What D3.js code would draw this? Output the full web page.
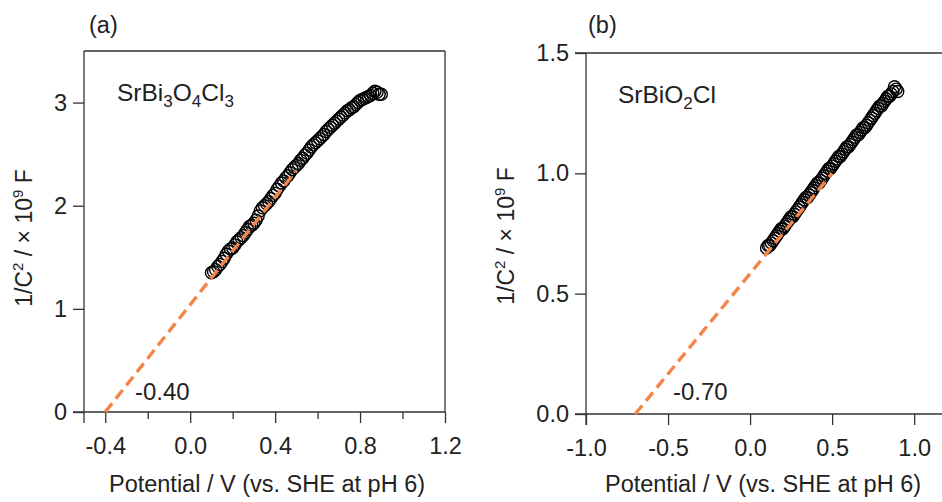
<!DOCTYPE html>
<html>
<head>
<meta charset="utf-8">
<script src="https://cdn.jsdelivr.net/npm/d3@7"></script>
<style>
  body { margin: 0; background: #fff; }
  svg { display: block; font-family: "Liberation Sans", Arial, sans-serif; }
  .axis path, .axis line { stroke: #333; stroke-width: 1.3; }
  .axis text { fill: #222; font-size: 23.5px; font-family: "Liberation Sans", Arial, sans-serif; }
</style>
</head>
<body>
<div id="chart"></div>
<script>
// potential (V vs. SHE) for both samples
const potential = [
  0.10, 0.11, 0.12, 0.13, 0.14, 0.15, 0.16, 0.17, 0.18, 0.19,
  0.20, 0.21, 0.22, 0.23, 0.24, 0.25, 0.26, 0.27, 0.28, 0.29,
  0.30, 0.31, 0.32, 0.33, 0.34, 0.35, 0.36, 0.37, 0.38, 0.39,
  0.40, 0.41, 0.42, 0.43, 0.44, 0.45, 0.46, 0.47, 0.48, 0.49,
  0.50, 0.51, 0.52, 0.53, 0.54, 0.55, 0.56, 0.57, 0.58, 0.59,
  0.60, 0.61, 0.62, 0.63, 0.64, 0.65, 0.66, 0.67, 0.68, 0.69,
  0.70, 0.71, 0.72, 0.73, 0.74, 0.75, 0.76, 0.77, 0.78, 0.79,
  0.80, 0.81, 0.82, 0.83, 0.84, 0.85, 0.86, 0.87, 0.88, 0.89, 0.90
];
// 1/C^2 (x10^9) SrBi3O4Cl3
const invC2_a = [
  1.35, 1.36, 1.38, 1.41, 1.43, 1.46, 1.49, 1.53, 1.56, 1.58,
  1.59, 1.62, 1.65, 1.67, 1.69, 1.71, 1.74, 1.77, 1.80, 1.81,
  1.83, 1.86, 1.90, 1.95, 1.98, 2.00, 2.02, 2.04, 2.07, 2.10,
  2.12, 2.16, 2.19, 2.22, 2.24, 2.27, 2.29, 2.32, 2.35, 2.37,
  2.39, 2.41, 2.44, 2.46, 2.49, 2.51, 2.54, 2.57, 2.59, 2.61,
  2.63, 2.65, 2.67, 2.69, 2.72, 2.74, 2.76, 2.78, 2.80, 2.82,
  2.84, 2.86, 2.88, 2.90, 2.92, 2.93, 2.95, 2.96, 2.98, 3.00,
  3.02, 3.03, 3.04, 3.05, 3.06, 3.07, 3.09, 3.11, 3.10, 3.08, 3.08
];
// 1/C^2 (x10^9) SrBiO2Cl
const invC2_b = [
  0.69, 0.70, 0.70, 0.71, 0.72, 0.73, 0.74, 0.75, 0.76, 0.77,
  0.77, 0.78, 0.79, 0.80, 0.81, 0.82, 0.82, 0.83, 0.84, 0.85,
  0.86, 0.87, 0.88, 0.89, 0.90, 0.90, 0.91, 0.92, 0.93, 0.94,
  0.95, 0.96, 0.96, 0.97, 0.98, 0.99, 1.00, 1.01, 1.02, 1.02,
  1.03, 1.04, 1.05, 1.06, 1.07, 1.07, 1.08, 1.09, 1.10, 1.11,
  1.11, 1.12, 1.13, 1.14, 1.15, 1.16, 1.16, 1.17, 1.18, 1.19,
  1.19, 1.20, 1.21, 1.22, 1.23, 1.24, 1.25, 1.26, 1.27, 1.28,
  1.28, 1.29, 1.30, 1.31, 1.32, 1.32, 1.33, 1.34, 1.36, 1.35, 1.34
];
// Mott-Schottky fit lines
const fitA_x = [-0.40, 0.50], fitA_y = [0, 2.34];
const fitB_x = [-0.70, 0.50], fitB_y = [0, 1.00];

const xTicksA = [-0.4, 0.0, 0.4, 0.8, 1.2], xMinorA = [-0.2, 0.2, 0.6, 1.0];
const yTicksA = [0, 1, 2, 3];
const xTicksB = [-1.0, -0.5, 0.0, 0.5, 1.0];
const yTicksB = [0.0, 0.5, 1.0, 1.5];

const W = 942, H = 502;
const svg = d3.select("#chart").append("svg").attr("width", W).attr("height", H);
const orange = "#f5844a";
const hy = s => s.replace("\u2212", "-");

function panel(o) {
  const x = d3.scaleLinear().domain(o.xd).range(o.xr);
  const y = d3.scaleLinear().domain(o.yd).range(o.yr);
  const g = svg.append("g");

  // frame top / right
  g.append("line").attr("x1", o.xr[0] - o.topExt).attr("x2", o.xr[1]).attr("y1", o.yr[1]).attr("y2", o.yr[1])
    .attr("stroke", "#333").attr("stroke-width", 1.3);
  g.append("line").attr("x1", o.xr[1]).attr("x2", o.xr[1]).attr("y1", o.yr[0]).attr("y2", o.yr[1])
    .attr("stroke", "#333").attr("stroke-width", 1.3);

  if (o.xMinor) {
    g.append("g").attr("class", "axis").attr("transform", `translate(0,${o.yr[0]})`)
      .call(d3.axisBottom(x).tickValues(o.xMinor).tickSize(7).tickFormat(""))
      .select(".domain").remove();
  }
  g.append("g").attr("class", "axis").attr("transform", `translate(0,${o.yr[0]})`)
    .call(d3.axisBottom(x).tickValues(o.xTicks).tickSize(11).tickSizeOuter(0).tickPadding(14)
      .tickFormat(d => hy(d3.format(".1f")(d))))
    .call(a => a.select(".domain").attr("d", `M${o.xr[0] - 11},0H${o.xr[1]}`));
  g.append("g").attr("class", "axis").attr("transform", `translate(${o.xr[0]},0)`)
    .call(d3.axisLeft(y).tickValues(o.yTicks).tickSize(11).tickSizeOuter(0).tickPadding(6)
      .tickFormat(o.yFmt))
    .call(a => a.select(".domain").attr("d", `M0,${o.yr[0] + 11}V${o.yr[1]}`));

  // data
  g.append("g").selectAll("circle").data(potential).join("circle")
    .attr("cx", d => x(d)).attr("cy", (d, i) => y(o.vals[i])).attr("r", 6)
    .attr("fill", "none").attr("stroke", "#000").attr("stroke-width", 1.4);

  // fit
  const line = d3.line().x(d => x(d[0])).y(d => y(d[1]));
  g.append("path").datum(o.fx.map((v, i) => [v, o.fy[i]])).attr("d", line)
    .attr("fill", "none").attr("stroke", orange).attr("stroke-width", 3.4).attr("stroke-dasharray", "11,6");

  // intercept label
  g.append("text").attr("x", o.ixl[0]).attr("y", o.ixl[1]).attr("font-size", 24).attr("fill", "#222").text(o.itext);

  // compound name
  const t = g.append("text").attr("x", o.name[0]).attr("y", o.name[1]).attr("font-size", 24.5).attr("fill", "#222");
  o.parts.forEach(p => {
    if (p.sub) t.append("tspan").attr("font-size", 17).attr("dy", 6).text(p.t);
    else t.append("tspan").attr("dy", p.back ? -6 : 0).text(p.t);
  });

  // panel tag
  g.append("text").attr("x", o.tag[0]).attr("y", o.tag[1]).attr("font-size", 23.5).attr("fill", "#222").text(o.tagText);

  // x title
  g.append("text").attr("x", o.xt[0]).attr("y", o.xt[1]).attr("text-anchor", "middle")
    .attr("font-size", 23.5).attr("fill", "#222").text("Potential  / V (vs. SHE at pH 6)");

  // y title
  const yt = g.append("text").attr("transform", `translate(${o.yt[0]},${o.yt[1]}) rotate(-90)`)
    .attr("text-anchor", "middle").attr("font-size", 23).attr("fill", "#222");
  yt.append("tspan").text("1/C");
  yt.append("tspan").attr("font-size", 15).attr("dy", -9).text("2");
  yt.append("tspan").attr("dy", 9).text(" /  \u00d7 10");
  yt.append("tspan").attr("font-size", 15).attr("dy", -9).text("9");
  yt.append("tspan").attr("dy", 9).text(" F");
}

panel({
  xd: [-0.5, 1.2], xr: [84, 445], yd: [0, 3.5], yr: [412, 51], topExt: 0,
  xTicks: xTicksA, xMinor: xMinorA, yTicks: yTicksA, yFmt: d3.format("d"),
  vals: invC2_a, fx: fitA_x, fy: fitA_y,
  ixl: [135, 400], itext: "-0.40",
  name: [117, 101], parts: [{t: "SrBi"}, {t: "3", sub: 1}, {t: "O", back: 1}, {t: "4", sub: 1}, {t: "Cl", back: 1}, {t: "3", sub: 1}],
  tag: [89, 33], tagText: "(a)",
  xt: [267, 492], yt: [32, 238]
});

panel({
  xd: [-1.0, 1.2], xr: [586, 947], yd: [0, 1.5], yr: [414, 53], topExt: 11,
  xTicks: xTicksB, xMinor: null, yTicks: yTicksB, yFmt: d => d3.format(".1f")(d),
  vals: invC2_b, fx: fitB_x, fy: fitB_y,
  ixl: [673, 400], itext: "-0.70",
  name: [618, 103], parts: [{t: "SrBiO"}, {t: "2", sub: 1}, {t: "Cl", back: 1}],
  tag: [588, 33], tagText: "(b)",
  xt: [763, 492], yt: [514, 236]
});
</script>
</body>
</html>
